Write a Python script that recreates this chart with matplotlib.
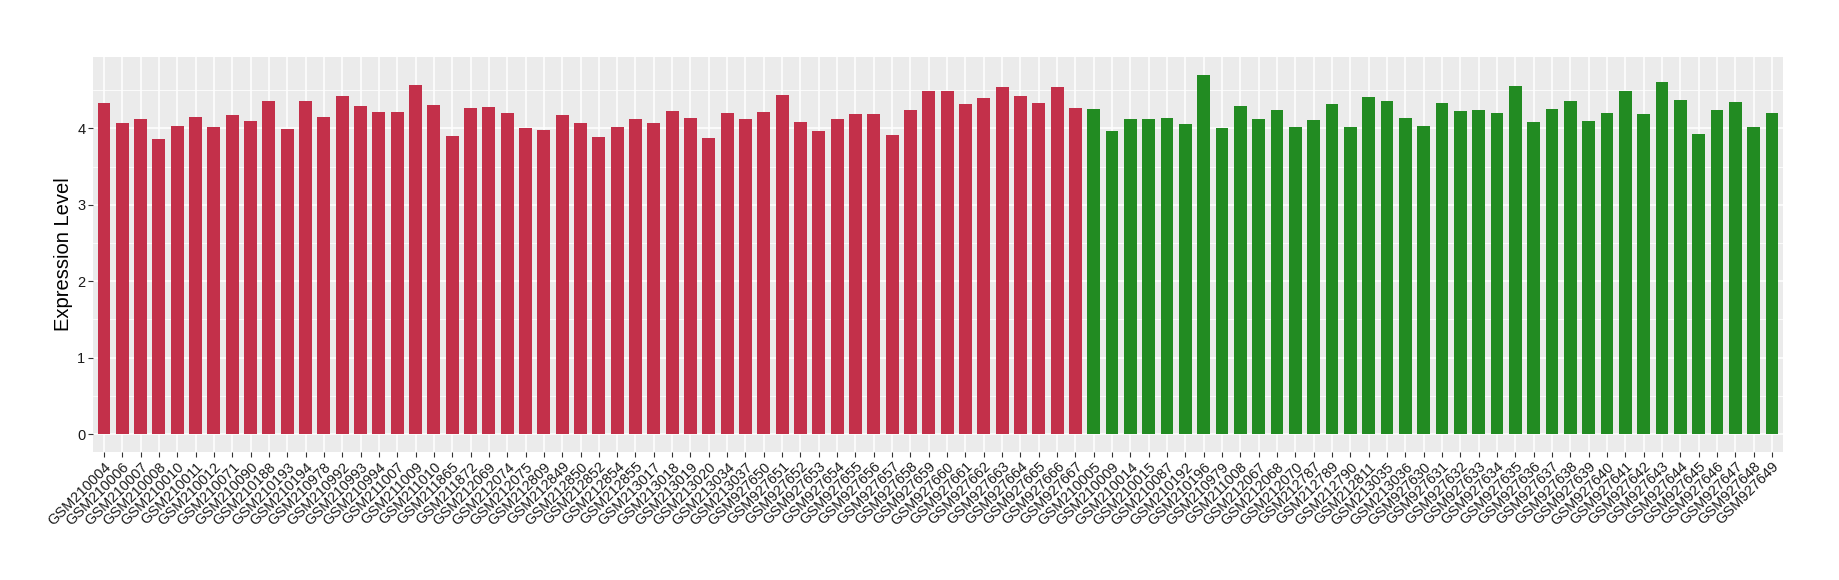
import matplotlib
matplotlib.use("Agg")
import matplotlib.pyplot as plt
import numpy as np
from matplotlib.ticker import MultipleLocator

plt.rcParams["font.family"] = ["Liberation Sans", "DejaVu Sans"]

# sample groups
red_samples = [
    "GSM210004", "GSM210006", "GSM210007", "GSM210008", "GSM210010", "GSM210011",
    "GSM210012", "GSM210071", "GSM210090", "GSM210188", "GSM210193", "GSM210194",
    "GSM210978", "GSM210992", "GSM210993", "GSM210994", "GSM211007", "GSM211009",
    "GSM211010", "GSM211865", "GSM211872", "GSM212069", "GSM212074", "GSM212075",
    "GSM212809", "GSM212849", "GSM212850", "GSM212852", "GSM212854", "GSM212855",
    "GSM213017", "GSM213018", "GSM213019", "GSM213020", "GSM213034", "GSM213037",
    "GSM927650", "GSM927651", "GSM927652", "GSM927653", "GSM927654", "GSM927655",
    "GSM927656", "GSM927657", "GSM927658", "GSM927659", "GSM927660", "GSM927661",
    "GSM927662", "GSM927663", "GSM927664", "GSM927665", "GSM927666", "GSM927667",
]
red_values = [
    4.33, 4.07, 4.12, 3.86, 4.03, 4.15, 4.02, 4.17, 4.10, 4.36, 3.99, 4.36,
    4.15, 4.42, 4.29, 4.21, 4.21, 4.57, 4.31, 3.90, 4.27, 4.28, 4.20, 4.00,
    3.98, 4.17, 4.07, 3.89, 4.02, 4.12, 4.07, 4.23, 4.14, 3.87, 4.20, 4.12,
    4.21, 4.44, 4.08, 3.97, 4.12, 4.19, 4.19, 3.91, 4.24, 4.49, 4.49, 4.32,
    4.40, 4.54, 4.42, 4.33, 4.54, 4.27,
]

green_samples = [
    "GSM210005", "GSM210009", "GSM210014", "GSM210015", "GSM210087", "GSM210192",
    "GSM210196", "GSM210979", "GSM211008", "GSM212067", "GSM212068", "GSM212070",
    "GSM212787", "GSM212789", "GSM212790", "GSM212811", "GSM213035", "GSM213036",
    "GSM927630", "GSM927631", "GSM927632", "GSM927633", "GSM927634", "GSM927635",
    "GSM927636", "GSM927637", "GSM927638", "GSM927639", "GSM927640", "GSM927641",
    "GSM927642", "GSM927643", "GSM927644", "GSM927645", "GSM927646", "GSM927647",
    "GSM927648", "GSM927649",
]
green_values = [
    4.25, 3.97, 4.12, 4.12, 4.14, 4.06, 4.70, 4.00, 4.29, 4.12, 4.24, 4.02,
    4.11, 4.32, 4.02, 4.41, 4.36, 4.14, 4.03, 4.33, 4.23, 4.24, 4.20, 4.55,
    4.08, 4.25, 4.36, 4.10, 4.20, 4.49, 4.19, 4.61, 4.37, 3.93, 4.24, 4.34,
    4.02, 4.20,
]

RED = "#C3304A"
GREEN = "#228B22"

labels = red_samples + green_samples
values = red_values + green_values
colors = [RED] * len(red_values) + [GREEN] * len(green_values)
x = np.arange(len(labels))

fig = plt.figure(figsize=(18.4, 5.8), dpi=100)
ax = fig.add_axes([0.0505, 0.2207, 0.9185, 0.681])

ax.set_facecolor("#EBEBEB")
ax.bar(x, values, width=0.7, color=colors, zorder=3)

ymax = max(values)
pad = 0.05 * ymax
ax.set_ylim(-pad, ymax + pad)
ax.set_xlim(-0.6, len(labels) - 0.4)

ax.yaxis.set_major_locator(MultipleLocator(1))
ax.yaxis.set_minor_locator(MultipleLocator(0.5))
ax.grid(which="major", color="white", linewidth=1.1, zorder=0)
ax.grid(which="minor", axis="y", color="white", linewidth=0.55, zorder=0)
ax.set_axisbelow(True)

ax.set_xticks(x)
ax.set_xticklabels(labels, rotation=45, ha="right", va="top",
                   rotation_mode="anchor", fontsize=10.5, color="#1A1A1A")
ax.tick_params(axis="both", which="major", length=3.5, width=0.8,
               color="#333333", pad=2)
ax.tick_params(axis="y", which="minor", length=0)
ax.tick_params(axis="y", labelsize=10.5, labelcolor="#1A1A1A")

for s in ax.spines.values():
    s.set_visible(False)

ax.set_ylabel("Expression Level", fontsize=14.5, labelpad=3)

fig.savefig("out.png", dpi=100, facecolor="white")
